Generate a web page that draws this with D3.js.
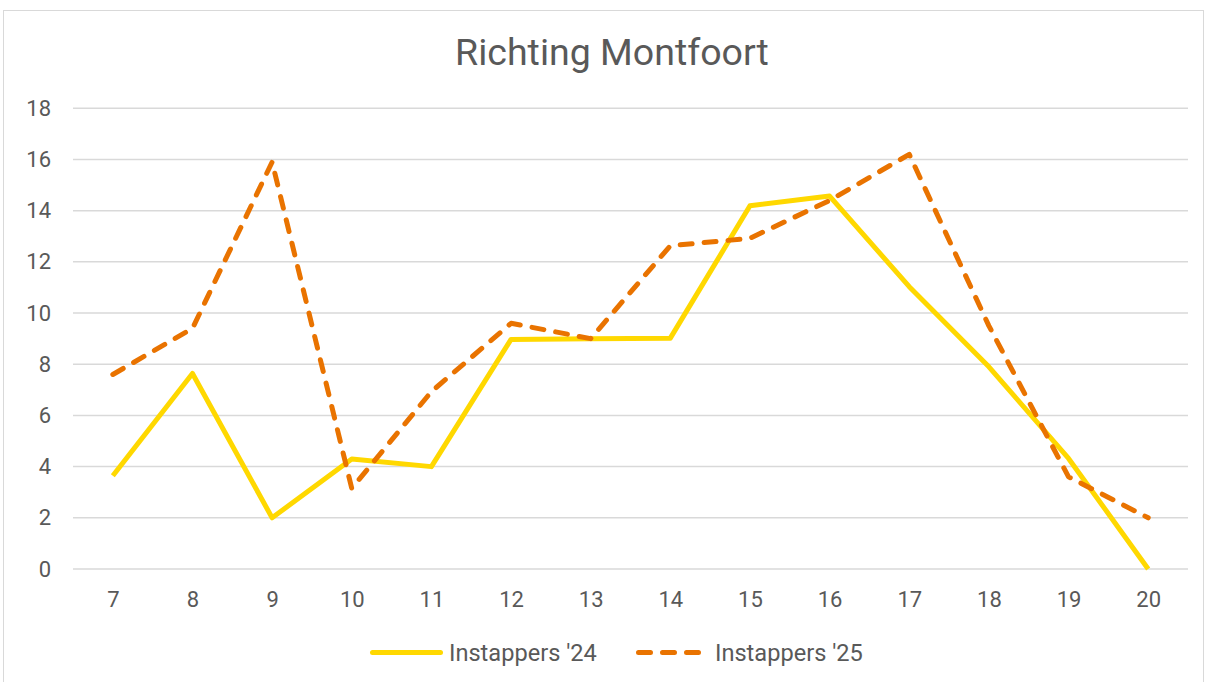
<!DOCTYPE html>
<html><head><meta charset="utf-8">
<script src="https://cdn.jsdelivr.net/npm/d3@7"></script>
<style>body{margin:0;background:#fff}svg{display:block;font-family:Roboto,"Noto Sans",sans-serif}</style>
</head><body><svg id="c" width="1207" height="682"></svg>
<script>
const categories = ["7","8","9","10","11","12","13","14","15","16","17","18","19","20"];
const series24 = [3.64,7.64,2.0,4.3,4.0,8.97,9.0,9.02,14.19,14.57,11.03,7.9,4.32,0];
const series25 = [7.6,9.4,15.9,3.15,6.93,9.6,9.0,12.63,12.92,14.4,16.2,9.5,3.6,2.0];
const yTicks = [0,2,4,6,8,10,12,14,16,18];
const seriesNames = ["Instappers '24","Instappers '25"];

const svg = d3.select("#c");
svg.append("rect").attr("x",3.5).attr("y",10.5).attr("width",1200).attr("height",690)
  .attr("fill","#fff").attr("stroke","#d9d9d9").attr("stroke-width",1);

const x = d3.scalePoint().domain(categories).range([73,1188]).padding(0.5);
const y = d3.scaleLinear().domain([0,18]).range([569,108.3]);

svg.append("text").attr("x",612).attr("y",65).attr("text-anchor","middle")
  .attr("font-size",37.5).attr("fill","#595959").text("Richting Montfoort");

const grid = svg.append("g");
grid.selectAll("line").data(yTicks).join("line")
  .attr("x1",73).attr("x2",1188).attr("y1",d=>y(d)).attr("y2",d=>y(d))
  .attr("stroke","#d9d9d9").attr("stroke-width",1.5);

const yAxis = svg.append("g").attr("transform","translate(51,0)")
  .call(d3.axisLeft(y).tickValues(yTicks).tickSize(0).tickPadding(0));
yAxis.select(".domain").remove();
yAxis.selectAll("text").attr("font-size",22).attr("fill","#595959").attr("font-family","Roboto");

const xAxis = svg.append("g").attr("transform","translate(0,607)")
  .call(d3.axisBottom(x).tickSize(0).tickPadding(0));
xAxis.select(".domain").remove();
xAxis.selectAll("text").attr("font-size",22).attr("fill","#595959").attr("font-family","Roboto").attr("dy","0");

const line = d3.line().x((d,i)=>x(categories[i])).y(d=>y(d));
svg.append("path").datum(series24).attr("d",line).attr("fill","none")
  .attr("stroke","#FFD800").attr("stroke-width",5).attr("stroke-linejoin","round");
svg.append("path").datum(series25).attr("d",line).attr("fill","none")
  .attr("stroke","#E97300").attr("stroke-width",5).attr("stroke-linejoin","round")
  .attr("stroke-linecap","round").attr("stroke-dasharray","12 12");

// legend
const lg = svg.append("g");
lg.append("line").attr("x1",372.5).attr("x2",440.5).attr("y1",652.5).attr("y2",652.5)
  .attr("stroke","#FFD800").attr("stroke-width",5).attr("stroke-linecap","round");
lg.append("text").attr("x",449).attr("y",660.5).attr("font-size",23.6).attr("fill","#595959").text(seriesNames[0]);
lg.append("line").attr("x1",638.5).attr("x2",699).attr("y1",652.5).attr("y2",652.5)
  .attr("stroke","#E97300").attr("stroke-width",5).attr("stroke-linecap","round").attr("stroke-dasharray","12 12");
lg.append("text").attr("x",715).attr("y",660.5).attr("font-size",23.6).attr("fill","#595959").text(seriesNames[1]);
</script></body></html>
